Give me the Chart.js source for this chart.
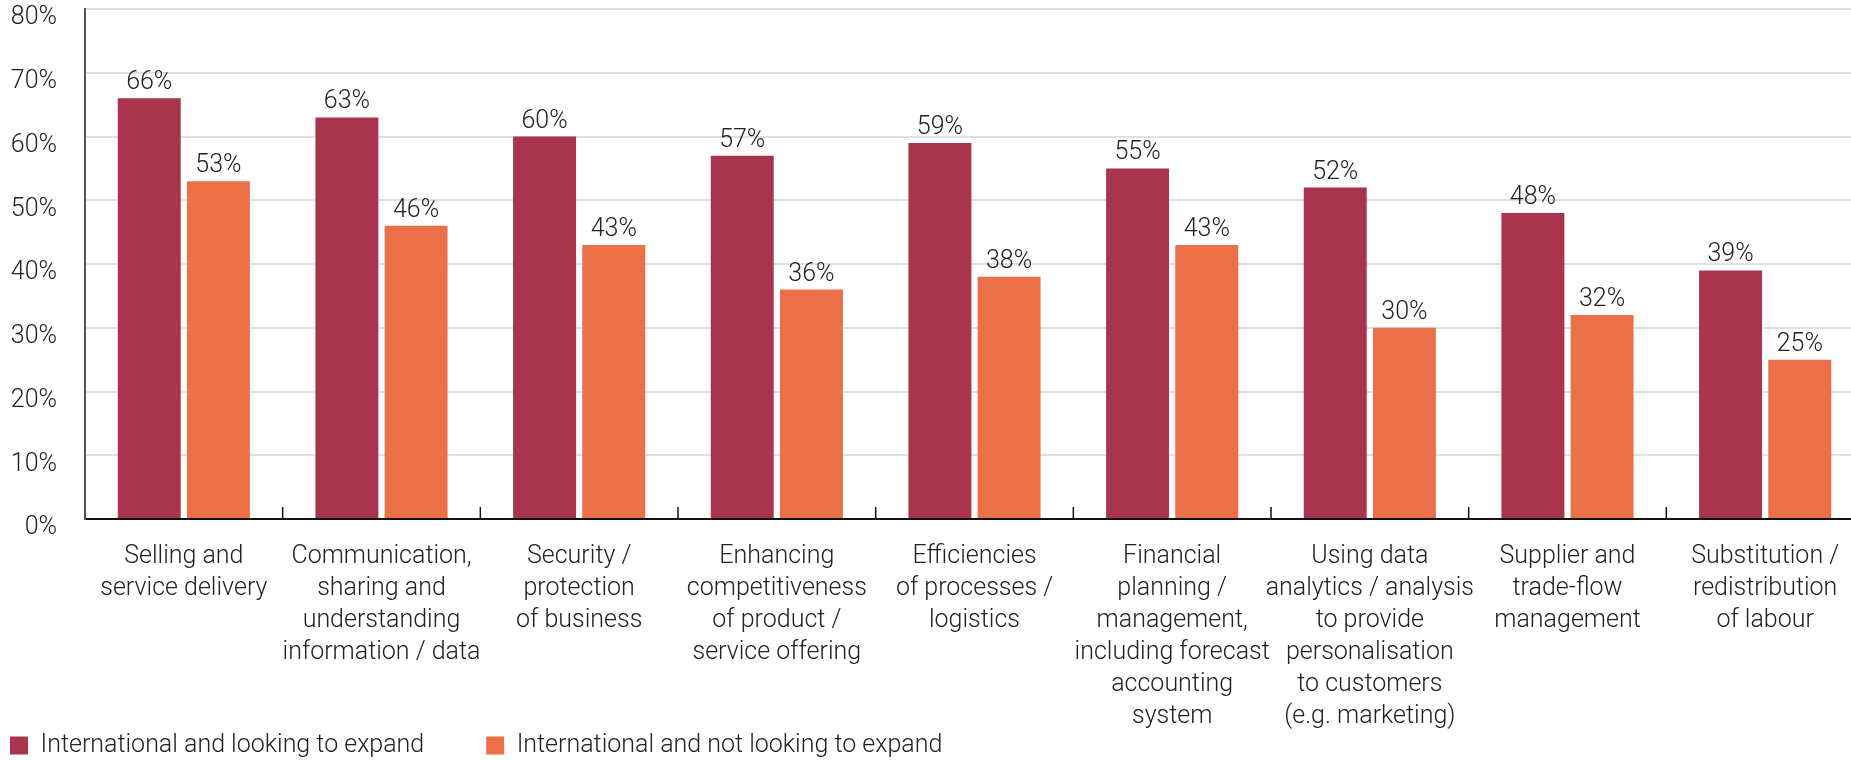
<!DOCTYPE html>
<html>
<head>
<meta charset="utf-8">
<script src="https://cdn.jsdelivr.net/npm/chart.js@4/dist/chart.umd.min.js"></script>
<style>
  html, body { margin: 0; padding: 0; background: #fff; overflow: hidden; }
  #wrap { width: 1864px; height: 760px; }
</style>
</head>
<body>
<div id="wrap"><canvas id="chartCanvas"></canvas></div>
<script>
const categories = [
  ["Selling and", "service delivery"],
  ["Communication,", "sharing and", "understanding", "information / data"],
  ["Security /", "protection", "of business"],
  ["Enhancing", "competitiveness", "of product /", "service offering"],
  ["Efficiencies", "of processes /", "logistics"],
  ["Financial", "planning /", "management,", "including forecast", "accounting", "system"],
  ["Using data", "analytics / analysis", "to provide", "personalisation", "to customers", "(e.g. marketing)"],
  ["Supplier and", "trade-flow", "management"],
  ["Substitution /", "redistribution", "of labour"]
];
const lookingToExpand = [66, 63, 60, 57, 59, 55, 52, 48, 39];
const notLookingToExpand = [53, 46, 43, 36, 38, 43, 30, 32, 25];
const seriesNames = ["International and looking to expand", "International and not looking to expand"];
const yTicks = [0, 10, 20, 30, 40, 50, 60, 70, 80];

const textColor = '#222';
const fontFamily = 'Roboto, "Liberation Sans", Arial, sans-serif';
const fontSize = 25;

// value labels on top of the bars
const barLabels = {
  id: 'barLabels',
  afterDatasetsDraw(chart) {
    const ctx = chart.ctx;
    ctx.save();
    ctx.font = '300 ' + fontSize + 'px ' + fontFamily;
    ctx.fillStyle = textColor;
    ctx.textAlign = 'center';
    ctx.textBaseline = 'alphabetic';
    chart.data.datasets.forEach((ds, d) => {
      chart.getDatasetMeta(d).data.forEach((bar, i) => {
        ctx.fillText(ds.data[i] + '%', bar.x, bar.y - 9);
      });
    });
    ctx.restore();
  }
};

// small upward ticks between categories
const categoryTicks = {
  id: 'categoryTicks',
  afterDraw(chart) {
    const x = chart.scales.x;
    const ctx = chart.ctx;
    const step = x.getPixelForValue(1) - x.getPixelForValue(0);
    ctx.save();
    ctx.strokeStyle = '#111';
    ctx.lineWidth = 1.5;
    for (let i = 0; i < categories.length; i++) {
      const px = x.getPixelForValue(i) + step / 2;
      ctx.beginPath();
      ctx.moveTo(px, x.top - 12);
      ctx.lineTo(px, x.top);
      ctx.stroke();
    }
    ctx.restore();
  }
};

const ctx = document.getElementById('chartCanvas').getContext('2d');
new Chart(ctx, {
  type: 'bar',
  data: {
    labels: categories,
    datasets: [
      { label: seriesNames[0], data: lookingToExpand, backgroundColor: '#A9344D' },
      { label: seriesNames[1], data: notLookingToExpand, backgroundColor: '#EB7047' }
    ]
  },
  options: {
    responsive: true,
    maintainAspectRatio: false,
    animation: false,
    layout: { padding: { top: 9, bottom: -8, left: 9, right: 0 } },
    datasets: { bar: { categoryPercentage: 0.7, barPercentage: 0.91 } },
    scales: {
      x: {
        grid: { display: false, drawTicks: false },
        border: { display: true, color: '#111', width: 2 },
        ticks: {
          color: textColor,
          font: { family: fontFamily, size: fontSize, weight: 300, lineHeight: 32 / fontSize },
          padding: 22,
          maxRotation: 0,
          autoSkip: false
        },
        afterFit(scale) {
          scale.height = 213;
          scale.paddingLeft = 0;
          scale.paddingRight = 0;
        }
      },
      y: {
        min: 0,
        max: 80,
        afterBuildTicks(scale) {
          scale.ticks = yTicks.map(v => ({ value: v }));
        },
        grid: { color: '#e0e0e0', lineWidth: 2, drawTicks: false },
        border: { display: true, color: '#555', width: 2 },
        ticks: {
          color: textColor,
          font: { family: fontFamily, size: fontSize, weight: 300 },
          padding: 28,
          labelOffset: 9,
          callback: v => v + '%'
        },
        afterFit(scale) {
          scale.width = 76;
          scale.paddingTop = 0;
          scale.paddingBottom = 0;
        }
      }
    },
    plugins: {
      legend: {
        position: 'bottom',
        align: 'start',
        labels: {
          boxWidth: 18,
          boxHeight: 18,
          padding: 1,
          color: textColor,
          font: { family: fontFamily, size: fontSize, weight: 300 },
          generateLabels(chart) {
            const items = Chart.defaults.plugins.legend.labels.generateLabels(chart);
            items.forEach((it, i) => {
              it.text = it.text + (i === 0 ? '          ' : '');
              it.lineWidth = 0;
            });
            return items;
          }
        }
      },
      tooltip: { enabled: false }
    }
  },
  plugins: [barLabels, categoryTicks]
});
</script>
</body>
</html>
